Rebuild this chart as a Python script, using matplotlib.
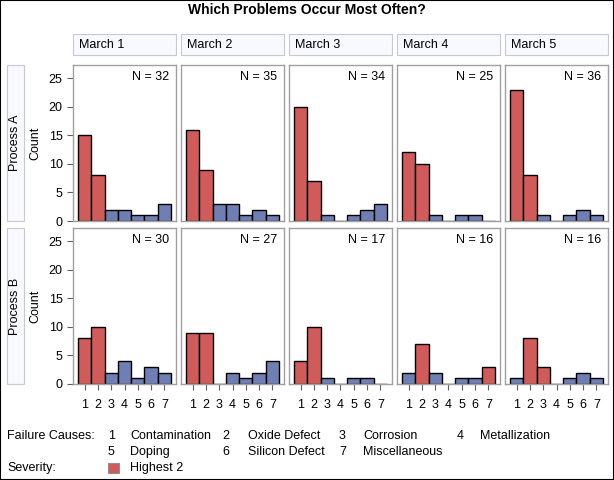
import matplotlib
matplotlib.use("Agg")
import matplotlib.pyplot as plt
from matplotlib.patches import Rectangle
import numpy as np

plt.rcParams['font.family'] = ['Liberation Sans', 'DejaVu Sans']

days = ["March 1", "March 2", "March 3", "March 4", "March 5"]
processes = ["Process A", "Process B"]
causes = [1, 2, 3, 4, 5, 6, 7]
cause_names = ["Contamination", "Oxide Defect", "Corrosion", "Metallization",
               "Doping", "Silicon Defect", "Miscellaneous"]
counts_A = [
    [15, 8, 2, 2, 1, 1, 3],
    [16, 9, 3, 3, 1, 2, 1],
    [20, 7, 1, 0, 1, 2, 3],
    [12, 10, 1, 0, 1, 1, 0],
    [23, 8, 1, 0, 1, 2, 1],
]
counts_B = [
    [8, 10, 2, 4, 1, 3, 2],
    [9, 9, 0, 2, 1, 2, 4],
    [4, 10, 1, 0, 1, 1, 0],
    [2, 7, 2, 0, 1, 1, 3],
    [1, 8, 3, 0, 1, 2, 1],
]
yticks = [0, 5, 10, 15, 20, 25]

RED = "#D05B5B"
BLUE = "#6F7EB3"
FRAME = "#A0A0A0"

W, H = 614, 480
fig = plt.figure(figsize=(W / 100, H / 100), dpi=100)

def rect(x0, y0, x1, y1):
    return [x0 / W, 1 - y1 / H, (x1 - x0) / W, (y1 - y0) / H]

def fx(x):
    return x / W

def fy(y):
    return 1 - y / H

# outer border
fig.patches.append(Rectangle((0, 0), 1, 1, transform=fig.transFigure,
                             fill=False, edgecolor="black", linewidth=1.5))

fig.text(fx(307), fy(10), "Which Problems Occur Most Often?", ha="center",
         va="center", fontsize=10, fontweight="bold")

col_x = [(73, 176), (181, 284), (289, 392), (397, 500), (505, 608)]
row_y = [(65, 221), (228, 384)]
HEAD = (34, 55)

for j, (x0, x1) in enumerate(col_x):
    fig.patches.append(Rectangle((fx(x0), fy(HEAD[1])), fx(x1) - fx(x0),
                                 fy(HEAD[0]) - fy(HEAD[1]), transform=fig.transFigure,
                                 facecolor="#F8F8FF", edgecolor="#C8C8D0", linewidth=0.8))
    fig.text(fx(x0 + 6), fy((HEAD[0] + HEAD[1]) / 2), days[j], ha="left",
             va="center", fontsize=9)

for i, (y0, y1) in enumerate(row_y):
    fig.patches.append(Rectangle((fx(7), fy(y1)), fx(24) - fx(7),
                                 fy(y0) - fy(y1), transform=fig.transFigure,
                                 facecolor="#F8F8FF", edgecolor="#C8C8D0", linewidth=0.8))
    fig.text(fx(15), fy((y0 + y1) / 2), processes[i], ha="center",
             va="center", rotation=90, fontsize=9)

data = [counts_A, counts_B]
for i, (y0, y1) in enumerate(row_y):
    for j, (x0, x1) in enumerate(col_x):
        ax = fig.add_axes(rect(x0, y0, x1, y1))
        vals = np.array(data[i][j])
        order = sorted(range(7), key=lambda k: (-vals[k], k))
        top2 = set(order[:2])
        colors = [RED if k in top2 else BLUE for k in range(7)]
        ax.bar(causes, vals, width=1.0, color=colors, edgecolor="black", linewidth=1.0)
        ax.set_xlim(0.13, 7.87)
        ax.set_ylim(0, 27.3)
        ax.set_yticks(yticks)
        ax.set_xticks(causes)
        for s in ax.spines.values():
            s.set_edgecolor(FRAME)
            s.set_linewidth(1.0)
        ax.tick_params(colors="#606060", labelcolor="black", labelsize=9,
                       length=4, width=0.8)
        if j == 0:
            ax.set_ylabel("Count", fontsize=9, labelpad=5)
        else:
            ax.tick_params(axis="y", left=False, labelleft=False)
        if i == 1:
            ax.set_xticklabels([str(c) for c in causes])
            ax.tick_params(axis="x", pad=7)
        else:
            ax.tick_params(axis="x", bottom=False, labelbottom=False)
        ax.text(0.93, 0.92, f"N = {vals.sum()}", transform=ax.transAxes,
                ha="right", va="center", fontsize=9)

# legend
fs = 9
fig.text(fx(7), fy(436), "Failure Causes:", ha="left", va="center", fontsize=fs)
num_x = [108, 222, 339, 457]
name_x = [130, 248, 363, 480]
for k in range(7):
    r = k // 4
    c = k % 4
    yy = 436 + 16 * r
    fig.text(fx(num_x[c]), fy(yy), str(causes[k]), ha="left", va="center", fontsize=fs)
    fig.text(fx(name_x[c]), fy(yy), cause_names[k], ha="left", va="center", fontsize=fs)
fig.text(fx(7), fy(468), "Severity:", ha="left", va="center", fontsize=fs)
fig.patches.append(Rectangle((fx(108), fy(473)), fx(119) - fx(108), fy(463) - fy(473),
                             transform=fig.transFigure, facecolor=RED,
                             edgecolor="#909090", linewidth=0.8))
fig.text(fx(130), fy(468), "Highest 2", ha="left", va="center", fontsize=fs)

fig.savefig("out.png", dpi=100)
